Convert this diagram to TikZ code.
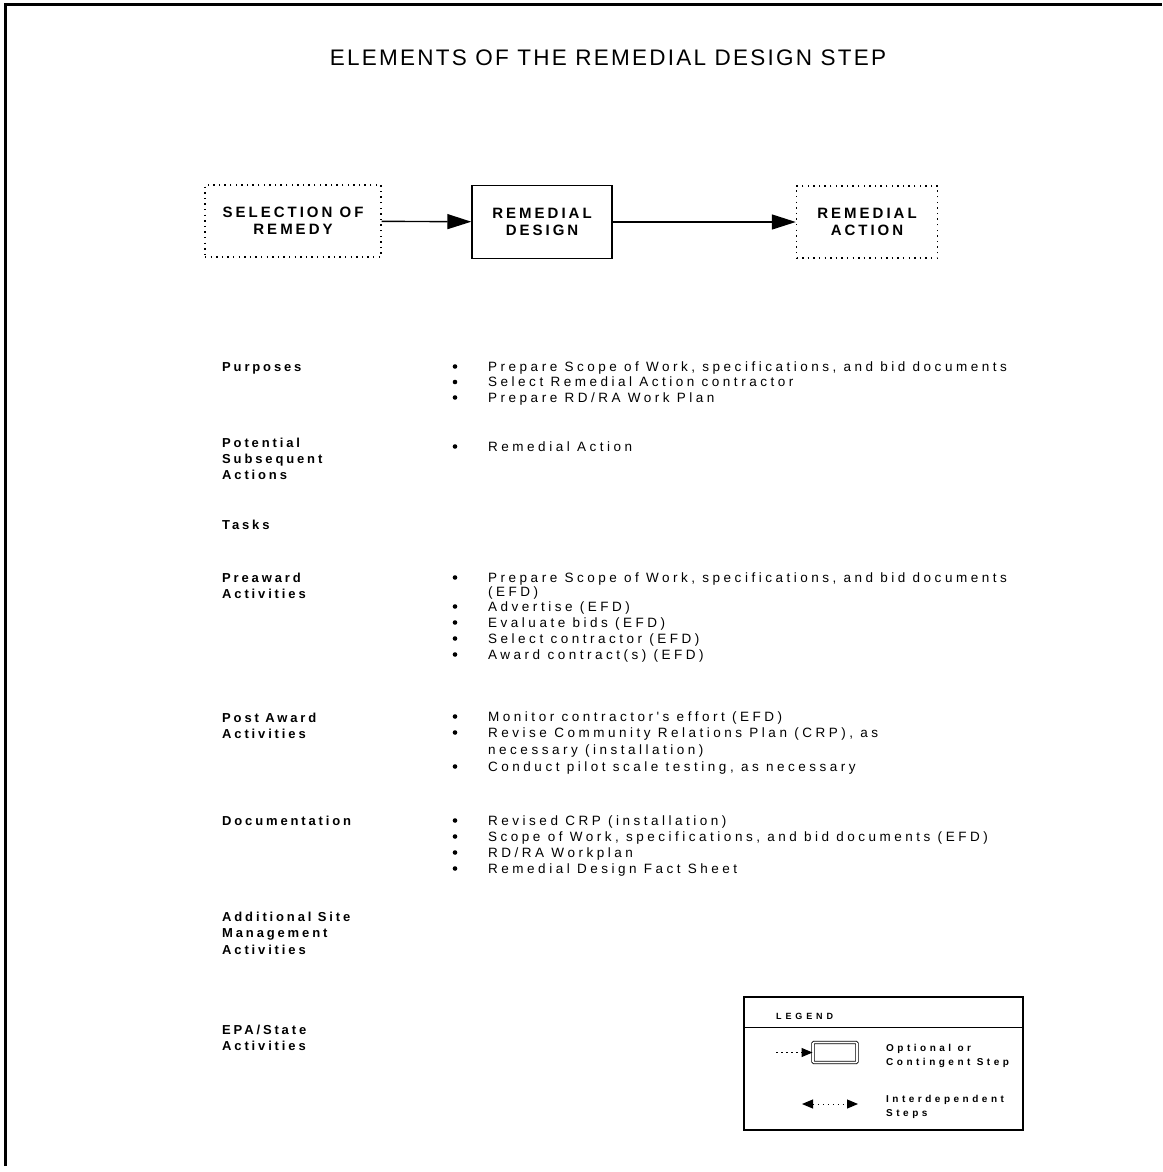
\documentclass[tikz,border=0pt]{standalone}
\usepackage{fontspec}
\setmainfont{Liberation Sans}
\newfontfamily\titlefont[LetterSpace=10]{Liberation Sans}
\newfontfamily\boxfont[LetterSpace=20]{Liberation Sans}
\newfontfamily\itemfont[LetterSpace=26]{Liberation Sans}
\newfontfamily\labfont[LetterSpace=22]{Liberation Sans}
\newfontfamily\legfont[LetterSpace=35]{Liberation Sans}
\newfontfamily\legtfont[LetterSpace=43]{Liberation Sans}
\usetikzlibrary{arrows.meta}
\begin{document}
\begin{tikzpicture}[x=1pt, y=-1pt,
        stepbox/.style={draw, line width=1.4pt, inner sep=0pt, minimum width=140pt, minimum height=73pt,
            align=center, font=\boxfont\bfseries\fontsize{15}{17}\selectfont},
        optbox/.style={stepbox, dash pattern=on 1.4pt off 4.2pt},
        flow/.style={line width=1.4pt, -{Triangle[length=24pt,width=15pt]}},
        lab/.style={anchor=base west, inner sep=0pt, font=\labfont\bfseries\fontsize{13}{15.6}\selectfont},
        itm/.style={anchor=base west, inner sep=0pt, font=\itemfont\fontsize{13.5}{15.6}\selectfont},
        bul/.style={circle, fill, inner sep=0pt, minimum size=4.6pt},
        leg/.style={anchor=base west, inner sep=0pt, font=\legfont\bfseries\fontsize{10}{12}\selectfont},
        dotline/.style={line width=1pt, dash pattern=on 1.5pt off 3.5pt}]
        \useasboundingbox (0,0) rectangle (1162,1172);
        % Rahmen
        \draw[line width=3pt] (5,1166) -- (5,5) -- (1162,5);
        % Titel
        \node[font=\titlefont\fontsize{22.5}{26}\selectfont] (title) at (608,58) {ELEMENTS OF THE REMEDIAL DESIGN STEP};
        % Schritte
        \node[optbox, minimum width=176pt, minimum height=72pt] (sel) at (293,221) {SELECTION OF\\REMEDY};
        \node[stepbox] (des) at (542,222) {REMEDIAL\\DESIGN};
        \node[optbox, minimum width=141pt, minimum height=72pt] (act) at (867,222) {REMEDIAL\\ACTION};
        \draw[flow] (sel) -- (des);
        \draw[flow] (des) -- (act);
        % Purposes
        \node[lab] (pur) at (222,371) {Purposes};
        \foreach \t [count=\i from 0] in {{Prepare Scope of Work, specifications, and bid documents},
            {Select Remedial Action contractor},{Prepare RD/RA Work Plan}}
            {\node[itm] (pur\i) at (488,371+15.5*\i) {\t}; \node[bul] (purb\i) at (455,366.5+15.5*\i) {};}
        % Potential Subsequent Actions
        \foreach \l [count=\i from 0] in {Potential,Subsequent,Actions} {\node[lab] (pot\i) at (222,447+16*\i) {\l};}
        \node[itm] (potx) at (488,451) {Remedial Action};
        \node[bul] (potb) at (455,446.5) {};
        % Tasks
        \node[lab] (tas) at (222,529) {Tasks};
        % Preaward Activities
        \foreach \l [count=\i from 0] in {Preaward,Activities} {\node[lab] (pre\i) at (222,582+16*\i) {\l};}
        \node[itm] (prex) at (488,582) {Prepare Scope of Work, specifications, and bid documents};
        \node[itm] (prey) at (488,596) {(EFD)};
        \node[bul] (preb) at (455,577.5) {};
        \foreach \t [count=\i from 0] in {{Advertise (EFD)},{Evaluate bids (EFD)},{Select contractor (EFD)},{Award contract(s) (EFD)}}
            {\node[itm] (pre\i x) at (488,611+16*\i) {\t}; \node[bul] (pre\i b) at (455,606.5+16*\i) {};}
        % Post Award Activities
        \foreach \l [count=\i from 0] in {Post Award,Activities} {\node[lab] (pos\i) at (222,722+16*\i) {\l};}
        \node[itm] (posa) at (488,721) {Monitor contractor's effort (EFD)};
        \node[itm] (posb) at (488,737) {Revise Community Relations Plan (CRP), as};
        \node[itm] (posc) at (488,754) {necessary (installation)};
        \node[itm] (posd) at (488,771) {Conduct pilot scale testing, as necessary};
        \foreach \y [count=\i from 0] in {721,737,771} {\node[bul] (posb\i) at (455,\y-4.5) {};}
        % Documentation
        \node[lab] (doc) at (222,825) {Documentation};
        \foreach \t [count=\i from 0] in {{Revised CRP (installation)},{Scope of Work, specifications, and bid documents (EFD)},
            {RD/RA Workplan},{Remedial Design Fact Sheet}}
            {\node[itm] (doc\i) at (488,825+16*\i) {\t}; \node[bul] (docb\i) at (455,820.5+16*\i) {};}
        % Additional Site Management Activities
        \foreach \l [count=\i from 0] in {Additional Site,Management,Activities} {\node[lab] (add\i) at (222,921+16.5*\i) {\l};}
        % EPA/State Activities
        \foreach \l [count=\i from 0] in {EPA/State,Activities} {\node[lab] (epa\i) at (222,1034+16*\i) {\l};}
        % Legende
        \node[draw, line width=1.2pt, minimum width=279pt, minimum height=133pt, inner sep=0pt] (legbox) at (883.5,1063.5) {};
        \draw[line width=0.8pt] (legbox.west |- 0,1027) -- (legbox.east |- 0,1027);
        \node[leg, font=\legtfont\bfseries\fontsize{9}{10}\selectfont] (legt) at (776,1019) {LEGEND};
        \node[draw, double, line width=0.9pt, double distance=1.6pt, rounded corners=1pt,
            minimum width=44pt, minimum height=20pt] (opt) at (835,1052.5) {};
        \coordinate (optin) at (776,1052.5);
        \draw[dotline, -{Triangle[length=11pt,width=9pt]}] (optin) -- (opt.west);
        \node[leg] (optt1) at (886,1051) {Optional or};
        \node[leg] (optt2) at (886,1065) {Contingent Step};
        \coordinate (il) at (802,1104);
        \coordinate (ir) at (858,1104);
        \draw[dotline, {Triangle[length=11pt,width=9pt]}-{Triangle[length=11pt,width=9pt]}] (il) -- (ir);
        \node[leg] (int1) at (886,1102) {Interdependent};
        \node[leg] (int2) at (886,1116) {Steps};
    \end{tikzpicture}
\end{document}
